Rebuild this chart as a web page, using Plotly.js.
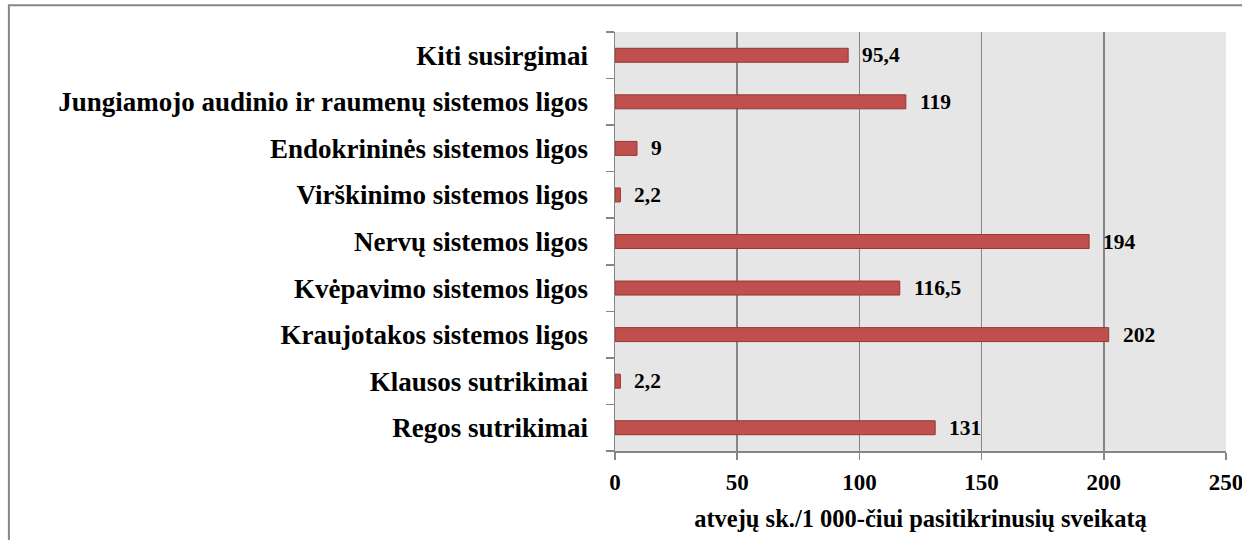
<!DOCTYPE html>
<html>
<head>
<meta charset="utf-8">
<script src="https://cdn.plot.ly/plotly-3.0.1.min.js"></script>
<style>html,body{margin:0;padding:0;background:#fff;}#chart{width:1242px;height:540px;}</style>
</head>
<body>
<div id="chart"></div>
<script>
const categories = [
  "Regos sutrikimai",
  "Klausos sutrikimai",
  "Kraujotakos sistemos ligos",
  "Kvėpavimo sistemos ligos",
  "Nervų sistemos ligos",
  "Virškinimo sistemos ligos",
  "Endokrininės sistemos ligos",
  "Jungiamojo audinio ir raumenų sistemos ligos",
  "Kiti susirgimai"
];
const values = [131, 2.2, 202, 116.5, 194, 2.2, 9, 119, 95.4];
const valueLabels = ["131", "2,2", "202", "116,5", "194", "2,2", "9", "119", "95,4"];
const xTicks = [0, 50, 100, 150, 200, 250];
const axisTitle = "atvejų sk./1 000-čiui pasitikrinusių sveikatą";

const serif = "Liberation Serif, Times New Roman, serif";

const trace = {
  type: "bar",
  orientation: "h",
  x: values,
  y: categories,
  marker: { color: "#c0504d", line: { color: "#943634", width: 1 } },
  hoverinfo: "none"
};

const annotations = values.map((v, i) => ({
  x: v, y: categories[i], xref: "x", yref: "y",
  text: "<b>" + valueLabels[i] + "</b>",
  showarrow: false, xanchor: "left", yanchor: "middle", xshift: 12,
  font: { family: serif, size: 21.5, color: "#000" }
}));

const layout = {
  width: 1242, height: 540,
  margin: { l: 615, r: 16, t: 32, b: 89 },
  paper_bgcolor: "#ffffff",
  plot_bgcolor: "#e6e6e6",
  bargap: 0.7,
  showlegend: false,
  font: { family: serif, color: "#000" },
  xaxis: {
    range: [0, 250],
    tickvals: xTicks,
    ticktext: xTicks.map(t => "<b>" + t + "</b>"),
    ticklabeloverflow: "allow",
    ticklabelstandoff: 3,
    showgrid: true, gridcolor: "#868686", gridwidth: 1.5,
    zeroline: false,
    showline: true, linecolor: "#868686", linewidth: 1.5,
    ticks: "outside", ticklen: 7, tickcolor: "#868686", tickwidth: 1.5,
    tickfont: { family: serif, size: 23, color: "#000" },
    title: { text: "<b>" + axisTitle + "</b>", font: { family: serif, size: 24.5, color: "#000" }, standoff: 16 },
    fixedrange: true
  },
  yaxis: {
    type: "category",
    tickson: "boundaries",
    ticks: "outside", ticklen: 8, tickcolor: "#868686", tickwidth: 1.5,
    showline: true, linecolor: "#868686", linewidth: 1.5,
    showgrid: false,
    ticktext: categories.map(c => "<b>" + c + "</b>"),
    tickvals: categories,
    tickfont: { family: serif, size: 27, color: "#000" },
    ticklabelstandoff: 20,
    fixedrange: true
  },
  annotations: annotations,
  shapes: [{
    type: "rect", xref: "paper", yref: "paper",
    x0: -0.992, x1: 1.1, y0: -0.4, y1: 1.064,
    line: { color: "#868686", width: 2 }, fillcolor: "rgba(0,0,0,0)", layer: "below"
  }]
};

Plotly.newPlot("chart", [trace], layout, { displayModeBar: false, staticPlot: true });
</script>
</body>
</html>
